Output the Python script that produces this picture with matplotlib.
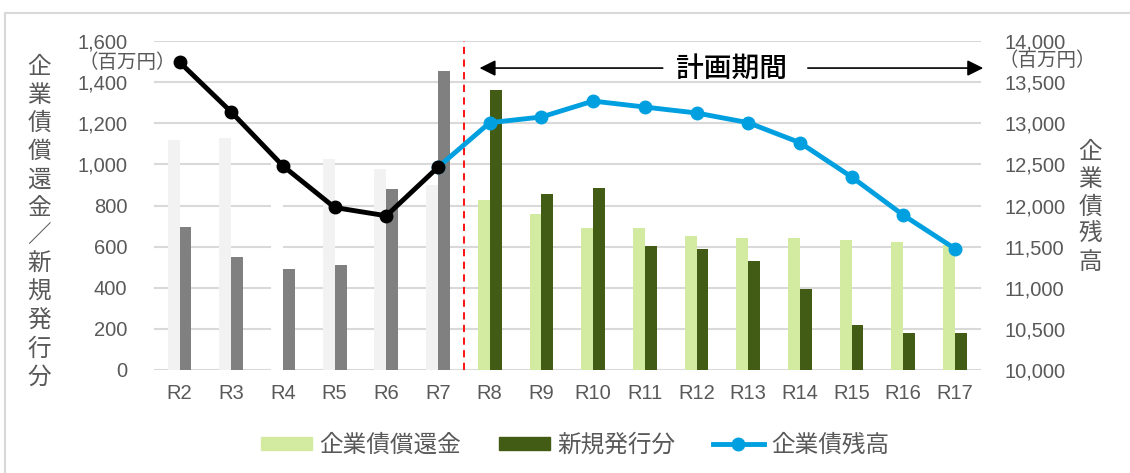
import matplotlib.pyplot as plt
from matplotlib.patches import Patch, Rectangle
from matplotlib.lines import Line2D

# ---- data ----
years = ['R2', 'R3', 'R4', 'R5', 'R6', 'R7', 'R8', 'R9', 'R10',
         'R11', 'R12', 'R13', 'R14', 'R15', 'R16', 'R17']
redemption = [1117, 1129, 1050, 1025, 977, 899, 828, 761, 691,
              691, 653, 643, 643, 633, 623, 608]
issuance = [695, 549, 490, 510, 879, 1457, 1362, 858, 886,
            604, 586, 528, 392, 217, 178, 178]
balance = [13745, 13138, 12482, 11976, 11875, 12466, 13008, 13077, 13271,
           13198, 13126, 13008, 12765, 12348, 11883, 11474]
n_past = 6  # R2..R7 are actuals

left_ticks = [0, 200, 400, 600, 800, 1000, 1200, 1400, 1600]
right_ticks = [10000, 10500, 11000, 11500, 12000, 12500, 13000, 13500, 14000]

# ---- style ----
JP = 'Noto Sans CJK JP'
NUM = ['Liberation Sans Narrow', 'Liberation Sans', JP]
plt.rcParams['font.family'] = [JP, 'DejaVu Sans']
TXT = '#595959'
LGREEN = '#D3EBA0'
DGREEN = '#435C15'
BLUE = '#00A0E0'
GRID = '#D9D9D9'

red_colors = ['#F2F2F2'] * n_past + [LGREEN] * (len(years) - n_past)
red_colors[2] = '#FFFFFF'
iss_colors = ['#808080'] * n_past + [DGREEN] * (len(years) - n_past)

fig = plt.figure(figsize=(11.3, 4.73), dpi=100)
ax = fig.add_axes([0.136, 0.218, 0.732, 0.695])
ax2 = ax.twinx()

x = list(range(len(years)))
w = 0.23
ax.bar([i - w / 2 for i in x], redemption, width=w, color=red_colors, zorder=2)
ax.bar([i + w / 2 for i in x], issuance, width=w, color=iss_colors, zorder=2)

ax.set_xlim(-0.5, len(years) - 0.5)
ax.set_ylim(0, 1600)
ax.set_yticks(left_ticks)
ax.set_yticklabels([f'{v:,}' for v in left_ticks])
ax.grid(axis='y', color=GRID, lw=1.5)
ax.set_axisbelow(True)
ax.set_xticks(x)
ax.set_xticklabels(years)

# balance line: black for actuals, blue for plan
ax2.plot(x[n_past - 1:], balance[n_past - 1:], color=BLUE, lw=3.5,
         marker='o', ms=9, zorder=3)
ax2.plot(x[:n_past], balance[:n_past], color='black', lw=3.5,
         marker='o', ms=9, zorder=4)
ax2.set_ylim(10000, 14000)
ax2.set_yticks(right_ticks)
ax2.set_yticklabels([f'{v:,}' for v in right_ticks])

for a in (ax, ax2):
    for s in a.spines.values():
        s.set_visible(False)
    a.tick_params(length=0, colors=TXT, labelsize=14.5)
    for lab in a.get_yticklabels() + a.get_xticklabels():
        lab.set_family(NUM)
ax.tick_params(axis='y', pad=19)
ax.tick_params(axis='x', pad=10)
ax2.tick_params(axis='y', pad=17)

# plan boundary and period arrow
ax.axvline(n_past - 0.5, color='#FF0000', ls=(0, (4, 3)), lw=1.3, zorder=5)
arr_y = 1469
ax.annotate('', xy=(5.75, arr_y), xytext=(9.4, arr_y),
            arrowprops=dict(arrowstyle='-|>', color='black', lw=1.2,
                            mutation_scale=24), annotation_clip=False)
ax.annotate('', xy=(15.6, arr_y), xytext=(12.1, arr_y),
            arrowprops=dict(arrowstyle='-|>', color='black', lw=1.2,
                            mutation_scale=24), annotation_clip=False)
ax.text(10.68, arr_y, '計画期間', ha='center', va='center', fontsize=20,
        fontweight='medium', color='black')

# units
fig.text(78 / 1130, 1 - 62 / 473, '（百万円）', ha='left', va='center',
         fontsize=14, color=TXT)
fig.text(999 / 1130, 1 - 61 / 473, '（百万円）', ha='left', va='center',
         fontsize=14, color=TXT)

# vertical axis titles
def vlabel(s, xpx, y0px, step):
    for k, ch in enumerate(s):
        fig.text(xpx / 1130, 1 - (y0px + k * step) / 473, ch, ha='center',
                 va='center', fontsize=17, color=TXT)

vlabel('企業債償還金／新規発行分', 39, 67, 28.2)
vlabel('企業債残高', 1090, 152, 27.5)

# legend
handles = [Patch(color=LGREEN, label='企業債償還金'),
           Patch(color=DGREEN, label='新規発行分'),
           Line2D([], [], color=BLUE, lw=3.5, marker='o', ms=9,
                  label='企業債残高')]
fig.legend(handles=handles, loc='center', bbox_to_anchor=(0.509, 1 - 445 / 473),
           ncol=3, frameon=False, fontsize=17, labelcolor=TXT,
           handlelength=2.16, handleheight=0.47, columnspacing=1.6,
           handletextpad=0.3)

# outer frame
fig.patches.append(Rectangle((5 / 1130, -0.1), 1.2, 1 - 13 / 473 + 0.1,
                             transform=fig.transFigure, fill=False,
                             edgecolor=GRID, lw=1.5))

fig.savefig('out.png', dpi=100)
